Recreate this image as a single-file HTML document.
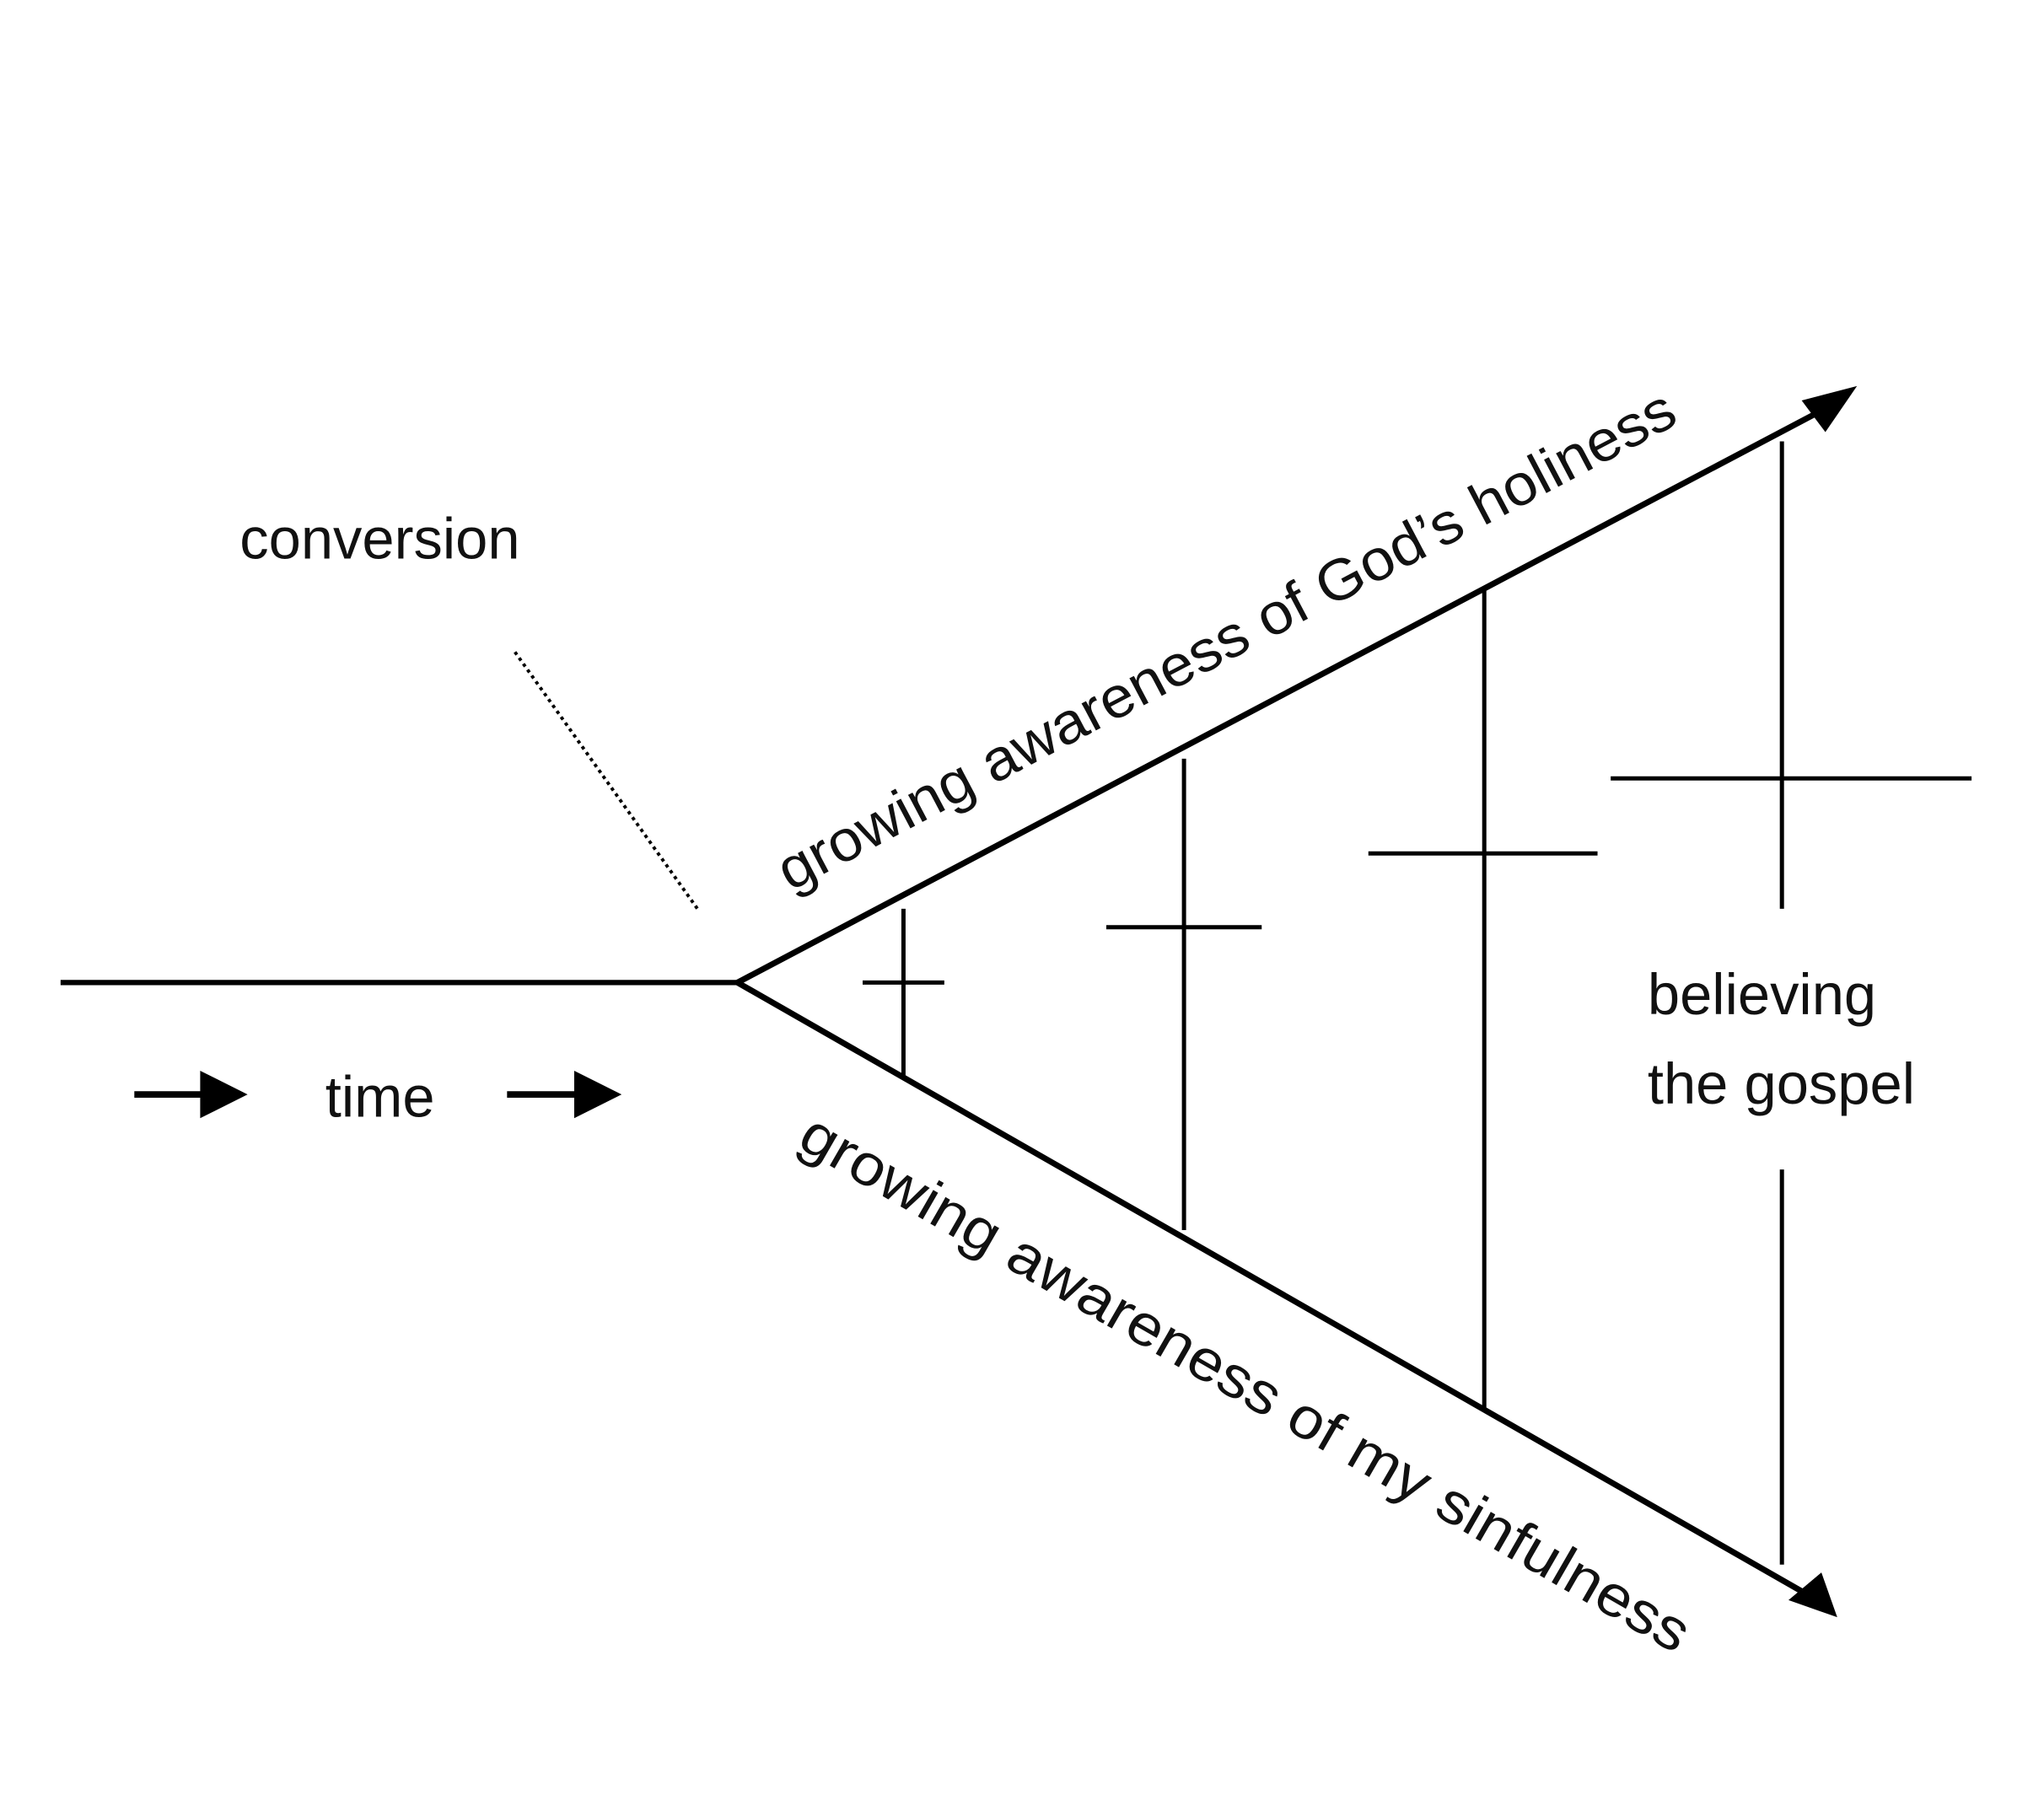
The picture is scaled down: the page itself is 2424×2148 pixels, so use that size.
<!DOCTYPE html>
<html><head><meta charset="utf-8"><style>html,body{margin:0;padding:0;background:#fff}svg{display:block}</style></head>
<body>
<svg width="2424" height="2148" viewBox="0 0 1552 1375" xmlns="http://www.w3.org/2000/svg" font-family="Liberation Sans, sans-serif" fill="#111">
<rect width="1552" height="1375" fill="#fff"/>
<g stroke="#000" fill="none" stroke-linecap="butt">
<line x1="46" y1="746" x2="560" y2="746" stroke-width="4"/>
<polyline points="1390,308 560,746 1378,1214" stroke-width="4.5"/>
<line x1="686" y1="690" x2="686" y2="818" stroke-width="3.2"/>
<line x1="655" y1="746" x2="717" y2="746" stroke-width="3.2"/>
<line x1="899" y1="576" x2="899" y2="934" stroke-width="3.2"/>
<line x1="840" y1="704" x2="958" y2="704" stroke-width="3.2"/>
<line x1="1127" y1="447" x2="1127" y2="1072" stroke-width="3.2"/>
<line x1="1039" y1="648" x2="1213" y2="648" stroke-width="3.2"/>
<line x1="1353" y1="335" x2="1353" y2="690" stroke-width="3.2"/>
<line x1="1223" y1="591" x2="1497" y2="591" stroke-width="3.2"/>
<line x1="1353" y1="888" x2="1353" y2="1188" stroke-width="3.2"/>
<line x1="391" y1="495" x2="531" y2="692" stroke-width="2.5" stroke-dasharray="2.5,3"/>
<line x1="102" y1="831" x2="160" y2="831" stroke-width="5"/>
<line x1="385" y1="831" x2="445" y2="831" stroke-width="5"/>
</g>
<g fill="#000">
<polygon points="1410,293 1368,304 1386,328"/>
<polygon points="1395,1228 1383,1194 1358,1215"/>
<polygon points="188,831 152,813 152,849"/>
<polygon points="472,831 436,813 436,849"/>
</g>
<g font-size="44" fill="#111">
<text x="182" y="424">conversion</text>
<text x="247" y="848">time</text>
<text x="1251" y="770">believing</text>
<text x="1251" y="838">the gospel</text>
<text transform="translate(600,677) rotate(-27.8)" textLength="764" lengthAdjust="spacingAndGlyphs">growing awareness of God’s holiness</text>
<text transform="translate(604,870) rotate(30)" textLength="772" lengthAdjust="spacingAndGlyphs">growing awareness of my sinfulness</text>
</g>
</svg>
</body></html>
